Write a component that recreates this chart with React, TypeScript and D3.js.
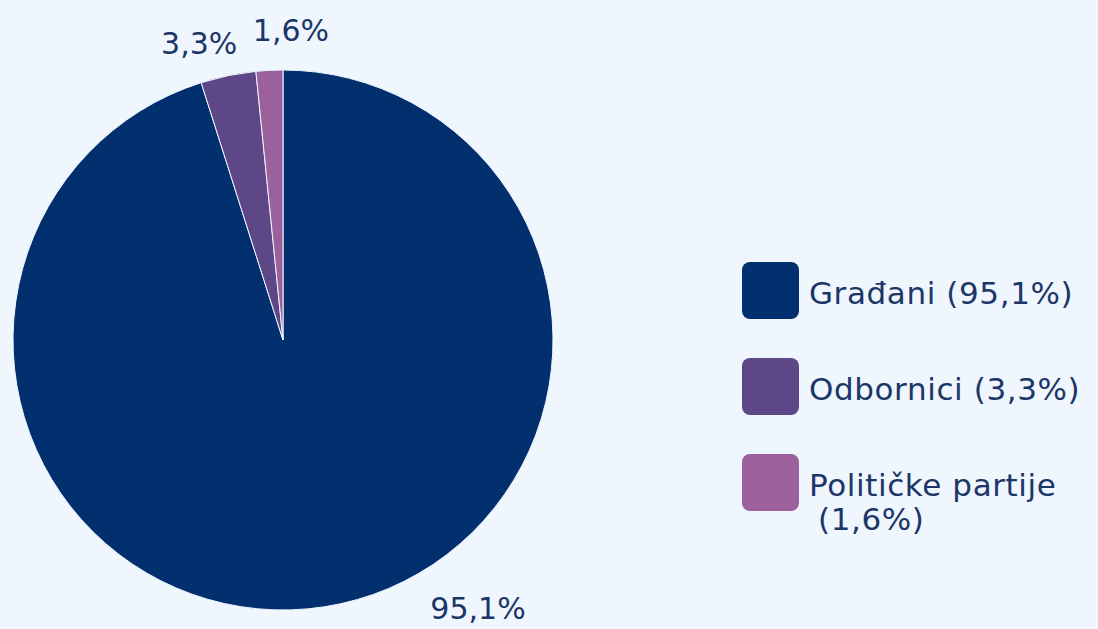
import React from 'react'
import * as d3 from 'd3'

const categories = ['Građani', 'Odbornici', 'Političke partije']
const shares = [95.1, 3.3, 1.6]
const sliceLabels = ['95,1%', '3,3%', '1,6%']
const legendLabels = [['Građani (95,1%)'], ['Odbornici (3,3%)'], ['Političke partije', '(1,6%)']]
const colors = ['#02306E', '#5D4787', '#9C619D']

// label nudges relative to the outer label arc (layout only)
const labelNudge = [
  [149, -26],
  [-23, -1],
  [23, -8],
]

const W = 1098
const H = 629
const BG = '#EFF6FE'
const TEXT = '#1C3668'
const FONT = '"DejaVu Sans", sans-serif'

export default function App() {
  const cx = 283
  const cy = 340
  const r = 270

  const pie = d3
    .pie<number>()
    .sort(null)
    .value((d) => d)
  const arcs = pie(shares)
  const arc = d3.arc<d3.PieArcDatum<number>>().innerRadius(0).outerRadius(r)
  const labelArc = d3.arc<d3.PieArcDatum<number>>().innerRadius(r + 30).outerRadius(r + 30)

  const legendY = d3
    .scaleBand<string>()
    .domain(categories)
    .range([262, 550])
    .paddingInner(0)

  return (
    <svg width={W} height={H} style={{ position: 'absolute', left: 0, top: 0, background: BG }}>
      <rect width={W} height={H} fill={BG} />
      <g transform={`translate(${cx},${cy})`}>
        {arcs.map((a, i) => (
          <path key={categories[i]} d={arc(a) ?? ''} fill={colors[i]} stroke={BG} strokeWidth={1} />
        ))}
        {arcs.map((a, i) => {
          const [x, y] = labelArc.centroid(a)
          return (
            <text
              key={'l' + i}
              x={x + labelNudge[i][0]}
              y={y + labelNudge[i][1]}
              textAnchor="middle"
              dominantBaseline="middle"
              fontFamily={FONT}
              fontSize={30}
              fill={TEXT}
            >
              {sliceLabels[i]}
            </text>
          )
        })}
      </g>
      <g>
        {categories.map((c, i) => {
          const y0 = legendY(c) ?? 0
          return (
            <g key={c}>
              <rect x={742} y={y0} width={57} height={57} rx={8} fill={colors[i]} />
              {legendLabels[i].map((t, j) => (
                <text
                  key={t}
                  x={j === 0 ? 809 : 818}
                  y={y0 + 42 + j * 34}
                  fontFamily={FONT}
                  fontSize={31}
                  letterSpacing={0.6}
                  fill={TEXT}
                >
                  {t}
                </text>
              ))}
            </g>
          )
        })}
      </g>
    </svg>
  )
}
